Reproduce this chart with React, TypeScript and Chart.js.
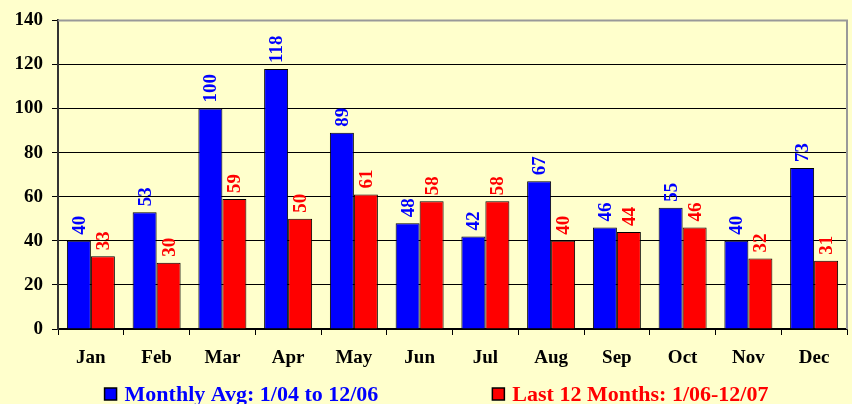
import { useEffect, useRef } from "react";
import { Chart, registerables } from "chart.js";

Chart.register(...registerables);

const months = ["Jan", "Feb", "Mar", "Apr", "May", "Jun", "Jul", "Aug", "Sep", "Oct", "Nov", "Dec"];
const monthlyAvg = [40, 53, 100, 118, 89, 48, 42, 67, 46, 55, 40, 73];
const last12Months = [33, 30, 59, 50, 61, 58, 58, 40, 44, 46, 32, 31];
const seriesNames = ["Monthly Avg: 1/04 to 12/06", "Last 12 Months: 1/06-12/07"];
const seriesColors = ["#0000FF", "#FF0000"];
const yMax = 140;
const yStep = 20;

const FONT = '"Liberation Serif", "Times New Roman", serif';

const valueLabelPlugin = {
  id: "valueLabels",
  afterDatasetsDraw(chart: any) {
    const ctx = chart.ctx;
    chart.data.datasets.forEach((ds: any, i: number) => {
      const meta = chart.getDatasetMeta(i);
      meta.data.forEach((el: any, j: number) => {
        ctx.save();
        ctx.translate(el.x, el.y - 6);
        ctx.rotate(-Math.PI / 2);
        ctx.font = `bold 19px ${FONT}`;
        ctx.fillStyle = seriesColors[i];
        ctx.textAlign = "left";
        ctx.textBaseline = "middle";
        ctx.fillText(String(ds.data[j]), 0, 1);
        ctx.restore();
      });
    });
  },
};

const framePlugin = {
  id: "frame",
  afterDraw(chart: any) {
    const { ctx, chartArea } = chart;
    ctx.save();
    ctx.strokeStyle = "#999999";
    ctx.lineWidth = 2;
    ctx.beginPath();
    ctx.moveTo(chartArea.left, chartArea.top);
    ctx.lineTo(chartArea.right, chartArea.top);
    ctx.lineTo(chartArea.right, chartArea.bottom);
    ctx.stroke();
    ctx.restore();
  },
};

const legendPlugin = {
  id: "customLegend",
  afterDraw(chart: any) {
    const ctx = chart.ctx;
    ctx.save();
    ctx.font = `bold 22px ${FONT}`;
    const box = 12;
    const textGap = 8;
    const itemGap = 114;
    const names = chart.data.datasets.map((d: any) => d.label);
    const widths = names.map((t: string) => box + textGap + ctx.measureText(t).width);
    const total = widths.reduce((a: number, b: number) => a + b, 0) + itemGap * (names.length - 1);
    let x = 436.5 - total / 2;
    const cy = 394;
    names.forEach((t: string, i: number) => {
      ctx.fillStyle = seriesColors[i];
      ctx.fillRect(x, cy - 6, box, box);
      ctx.strokeStyle = "#000";
      ctx.lineWidth = 1.5;
      ctx.strokeRect(x, cy - 6, box, box);
      ctx.fillStyle = seriesColors[i];
      ctx.textAlign = "left";
      ctx.textBaseline = "middle";
      ctx.fillText(t, x + box + textGap, cy + 1);
      x += widths[i] + itemGap;
    });
    ctx.restore();
  },
};

export default function App() {
  const canvasRef = useRef<HTMLCanvasElement | null>(null);

  useEffect(() => {
    if (!canvasRef.current) return;
    const chart = new Chart(canvasRef.current, {
      type: "bar",
      data: {
        labels: months,
        datasets: [
          {
            label: seriesNames[0],
            data: monthlyAvg,
            backgroundColor: seriesColors[0],
            borderColor: "#000000",
            borderWidth: 1,
            barPercentage: 1,
            categoryPercentage: 0.73,
          },
          {
            label: seriesNames[1],
            data: last12Months,
            backgroundColor: seriesColors[1],
            borderColor: "#000000",
            borderWidth: 1,
            barPercentage: 1,
            categoryPercentage: 0.73,
          },
        ],
      },
      options: {
        responsive: false,
        animation: false,
        layout: { padding: { top: 19, right: 5, left: 0, bottom: 30 } },
        plugins: {
          legend: { display: false },
          tooltip: { enabled: false },
        },
        scales: {
          x: {
            afterFit: (s: any) => {
              s.height = 45;
            },
            grid: {
              offset: true,
              drawOnChartArea: false,
              tickLength: 6,
              color: "#000000",
            },
            border: { color: "#000000", width: 1.5 },
            ticks: {
              color: "#000000",
              padding: 12,
              font: { family: FONT, size: 19, weight: "bold" },
            },
          },
          y: {
            min: 0,
            max: yMax,
            afterFit: (s: any) => {
              s.width = 58;
            },
            grid: {
              color: (c: any) => (c.tick && c.tick.value === yMax ? "#999999" : "#000000"),
              tickColor: "#000000",
              tickLength: 6,
              lineWidth: 1,
            },
            border: { color: "#333333", width: 2 },
            ticks: {
              stepSize: yStep,
              color: "#000000",
              padding: 9,
              font: { family: FONT, size: 19, weight: "bold" },
            },
          },
        },
      },
      plugins: [valueLabelPlugin, framePlugin, legendPlugin],
    });
    return () => chart.destroy();
  }, []);

  return (
    <div
      style={{
        position: "absolute",
        left: 0,
        top: 0,
        width: 852,
        height: 404,
        background: "#FFFFCC",
      }}
    >
      <canvas ref={canvasRef} width={852} height={404} style={{ width: 852, height: 404 }} />
    </div>
  );
}
